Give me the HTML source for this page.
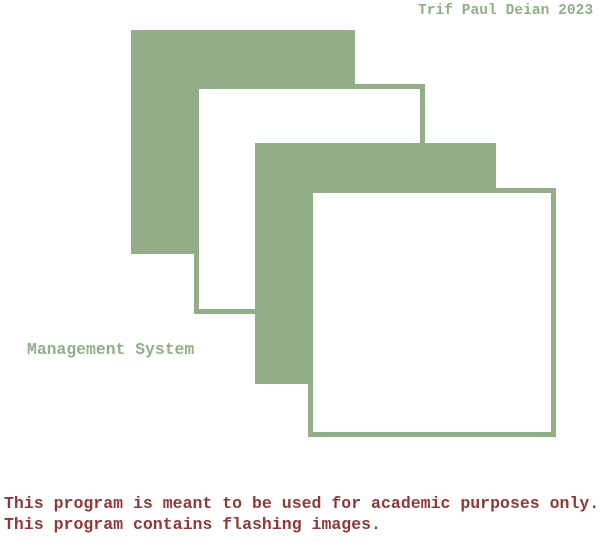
<!DOCTYPE html>
<html><head><style>
html,body{margin:0;padding:0;background:#fff;width:600px;height:550px;overflow:hidden;position:relative}
.a{position:absolute;box-sizing:border-box}
.f{background:#91ae89}
.o{background:#fff;border:5px solid #91ae89}
.t{position:absolute;font-family:"Liberation Mono",monospace;font-weight:bold;white-space:nowrap;line-height:1}
</style></head><body>
<div class="a f" style="left:131px;top:30px;width:224px;height:224px"></div>
<div class="a o" style="left:194px;top:84px;width:231px;height:230px"></div>
<div class="a f" style="left:255px;top:143px;width:241px;height:241px"></div>
<div class="a o" style="left:308px;top:188px;width:248px;height:249px"></div>
<div class="t" style="left:418px;top:4px;font-size:14.6px;color:#91ae89">Trif Paul Deian 2023</div>
<div class="t" style="left:27px;top:342px;font-size:16.4px;color:#91ae89">Management System</div>
<div class="t" style="left:4px;top:493px;font-size:16.55px;color:#8b3a3a;line-height:21px">This program is meant to be used for academic purposes only.<br>This program contains flashing images.</div>
</body></html>
